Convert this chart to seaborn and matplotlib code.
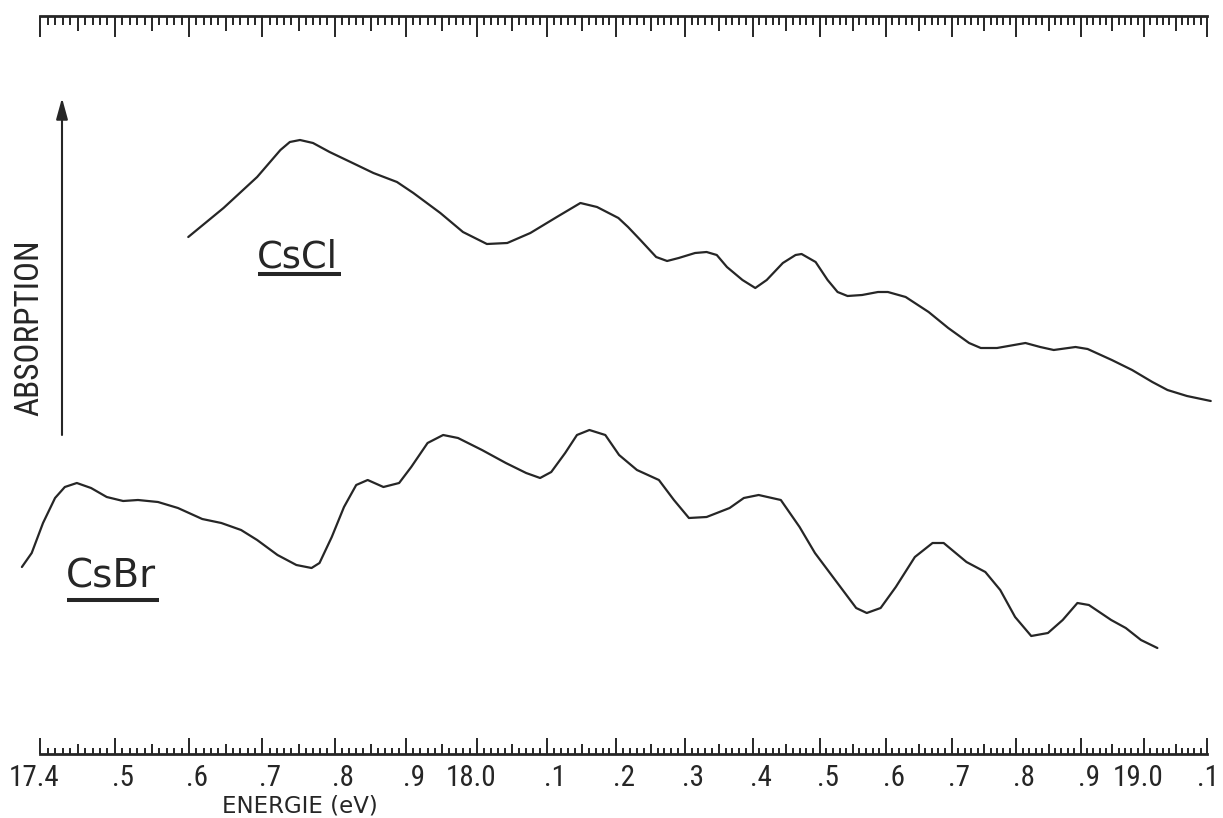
import numpy as np
import pandas as pd
import matplotlib
matplotlib.use("Agg")
import matplotlib.pyplot as plt
import seaborn as sns
from matplotlib import font_manager as fm
from matplotlib.ticker import FixedLocator, NullFormatter
from matplotlib.lines import Line2D

# ---------------- data ----------------
cscl_energy = [17.599, 17.647, 17.693, 17.725, 17.738, 17.752, 17.770, 17.793, 17.825, 17.854,
               17.887, 17.910, 17.948, 17.980, 18.014, 18.043, 18.076, 18.114, 18.148, 18.172,
               18.203, 18.217, 18.235, 18.258, 18.274, 18.291, 18.315, 18.332, 18.347, 18.362,
               18.385, 18.404, 18.421, 18.445, 18.464, 18.473, 18.494, 18.512, 18.527, 18.542,
               18.564, 18.588, 18.603, 18.630, 18.665, 18.695, 18.727, 18.745, 18.770, 18.814,
               18.837, 18.858, 18.892, 18.911, 18.949, 18.981, 19.013, 19.037, 19.068, 19.106]
cscl_absorption = [5.17, 5.46, 5.77, 6.04, 6.12, 6.14, 6.11, 6.02, 5.91, 5.81,
                   5.72, 5.61, 5.41, 5.22, 5.10, 5.11, 5.21, 5.37, 5.51, 5.47,
                   5.36, 5.27, 5.14, 4.97, 4.93, 4.96, 5.01, 5.02, 4.99, 4.87,
                   4.74, 4.66, 4.74, 4.91, 4.99, 5.00, 4.92, 4.74, 4.62, 4.58,
                   4.59, 4.62, 4.62, 4.57, 4.42, 4.26, 4.11, 4.06, 4.06, 4.11,
                   4.07, 4.04, 4.07, 4.05, 3.94, 3.84, 3.72, 3.64, 3.58, 3.53]

csbr_energy = [17.376, 17.389, 17.404, 17.420, 17.433, 17.449, 17.468, 17.489, 17.511, 17.531,
               17.558, 17.585, 17.618, 17.644, 17.671, 17.693, 17.721, 17.747, 17.768, 17.779,
               17.796, 17.813, 17.830, 17.846, 17.868, 17.890, 17.907, 17.930, 17.952, 17.973,
               18.007, 18.041, 18.070, 18.090, 18.106, 18.126, 18.143, 18.161, 18.184, 18.204,
               18.230, 18.262, 18.284, 18.306, 18.332, 18.366, 18.387, 18.409, 18.442, 18.470,
               18.493, 18.520, 18.555, 18.571, 18.592, 18.615, 18.644, 18.671, 18.688, 18.723,
               18.752, 18.775, 18.798, 18.823, 18.849, 18.872, 18.895, 18.913, 18.948, 18.971,
               18.995, 19.021]
csbr_absorption = [1.87, 2.01, 2.31, 2.56, 2.67, 2.71, 2.66, 2.57, 2.53, 2.54,
                   2.52, 2.46, 2.35, 2.31, 2.24, 2.14, 1.99, 1.89, 1.86, 1.91,
                   2.17, 2.47, 2.69, 2.74, 2.67, 2.71, 2.87, 3.11, 3.19, 3.16,
                   3.04, 2.91, 2.81, 2.76, 2.82, 3.01, 3.19, 3.24, 3.19, 2.99,
                   2.84, 2.74, 2.54, 2.36, 2.37, 2.46, 2.56, 2.59, 2.54, 2.27,
                   2.01, 1.77, 1.46, 1.41, 1.46, 1.67, 1.97, 2.11, 2.11, 1.92,
                   1.82, 1.64, 1.37, 1.18, 1.21, 1.34, 1.51, 1.49, 1.34, 1.26,
                   1.14, 1.06]

sample_names = ["CsCl", "CsBr"]
label_energy = [17.693, 17.435]
label_absorption = [4.87, 1.66]

tick_values = [17.4, 17.5, 17.6, 17.7, 17.8, 17.9, 18.0, 18.1, 18.2,
               18.3, 18.4, 18.5, 18.6, 18.7, 18.8, 18.9, 19.0, 19.1]
tick_labels = ["17.4", ".5", ".6", ".7", ".8", ".9", "18.0", ".1", ".2",
               ".3", ".4", ".5", ".6", ".7", ".8", ".9", "19.0", ".1"]
x_title = "ENERGIE (eV)"
y_title = "ABSORPTION"

# ---------------- style ----------------
sns.set_theme(style="white")
plt.rcParams["font.family"] = ["DejaVu Sans"]
INK = "#262626"
W, H = 1223, 818


def condensed_font():
    prefs = ["Liberation Sans Narrow", "Roboto Condensed", "Open Sans Condensed"]
    fl = fm.fontManager.ttflist
    for p in prefs:
        for f in fl:
            if f.name == p and f.style == "normal" and f.weight in (400, "normal", "regular"):
                return f.fname
    for f in fl:
        if f.name == "DejaVu Sans" and str(f.stretch) in ("condensed", "semi-condensed") \
                and f.style == "normal" and f.weight in (400, "normal"):
            return f.fname
    for f in fl:
        if ("Condensed" in f.name or "Narrow" in f.name) and f.style == "normal":
            return f.fname
    return None


cond_path = condensed_font()


def cond_fp(size):
    if cond_path:
        return fm.FontProperties(fname=cond_path, size=size)
    return fm.FontProperties(family="DejaVu Sans", size=size * 0.85)


fig = plt.figure(figsize=(W / 100, H / 100), dpi=100)
fig.patch.set_facecolor("white")
ax = fig.add_axes([40 / W, 64 / H, 1167 / W, 738 / H])
ax.set_facecolor("white")

with np.errstate(divide="ignore"):
    ax.set_xscale("function", functions=(lambda e: -1.0 / np.asarray(e, float),
                                         lambda v: -1.0 / np.asarray(v, float)))

df = pd.concat([
    pd.DataFrame({"energy": cscl_energy, "absorption": cscl_absorption, "sample": sample_names[0]}),
    pd.DataFrame({"energy": csbr_energy, "absorption": csbr_absorption, "sample": sample_names[1]}),
])
sns.lineplot(data=df, x="energy", y="absorption", units="sample", estimator=None,
             sort=False, color=INK, linewidth=1.6, clip_on=False, ax=ax, legend=False,
             solid_joinstyle="round", solid_capstyle="round")

ax.set_xlim(17.4, 19.1)
ax.set_ylim(0, 7.38)
ax.set_xlabel("")
ax.set_ylabel("")

for s in ("left", "right"):
    ax.spines[s].set_visible(False)
for s in ("top", "bottom"):
    ax.spines[s].set_linewidth(2.0)
    ax.spines[s].set_color(INK)

# ticks: long every 0.1, medium every 0.05, short every 0.01 (bottom and top)
minor_h = [h for h in range(1740, 1911) if h % 10]
minor_vals = [h / 100 for h in minor_h]
ax.xaxis.set_major_locator(FixedLocator(tick_values))
ax.xaxis.set_minor_locator(FixedLocator(minor_vals))
ax.xaxis.set_major_formatter(NullFormatter())
ax.xaxis.set_minor_formatter(NullFormatter())
ax.tick_params(axis="x", which="both", direction="in", bottom=True, top=True,
               labelbottom=False, labeltop=False, width=1.4, color=INK)
ax.tick_params(axis="y", left=False, right=False, labelleft=False)
ax.grid(False)

for t in ax.xaxis.get_major_ticks(len(tick_values)):
    t.tick1line.set_markersize(11.5)
    t.tick2line.set_markersize(15.0)
for t, h in zip(ax.xaxis.get_minor_ticks(len(minor_vals)), minor_h):
    if h % 5 == 0:
        t.tick1line.set_markersize(7.2)
        t.tick2line.set_markersize(11.0)
    else:
        t.tick1line.set_markersize(4.5)
        t.tick2line.set_markersize(6.5)

# tick labels with the decimal point under the tick
n_ticks = len(tick_values)
for i, (v, lab) in enumerate(zip(tick_values, tick_labels)):
    if i == n_ticks - 1:
        ha, dx = "right", 8.5          # keep the last label inside the picture
    elif lab.startswith("."):
        ha, dx = "left", -2.2
    else:
        ha, dx = "center", -4.6
    ax.annotate(lab, xy=(v, 0), xycoords=("data", "axes fraction"), xytext=(dx, -7),
                textcoords="offset points", ha=ha, va="top", color=INK,
                fontproperties=cond_fp(21), annotation_clip=False)

xt = fig.text(300 / W, 1 - 806 / H, x_title, ha="center", va="center",
              fontsize=15.5, color=INK)
yt = fig.text(29 / W, 1 - 328 / H, y_title, ha="center", va="center", rotation=90,
              color=INK, fontproperties=cond_fp(30))

# vertical arrow next to the absorption label
ax.annotate("", xy=(22 / 1167, (754 - 98) / 738), xytext=(22 / 1167, (754 - 435) / 738),
            xycoords="axes fraction",
            arrowprops=dict(arrowstyle="-|>,head_length=0.8,head_width=0.22", lw=1.5,
                            color=INK, mutation_scale=16, shrinkA=0, shrinkB=0))

name_texts = []
for name, e, a in zip(sample_names, label_energy, label_absorption):
    name_texts.append(ax.text(e, a, name, ha="left", va="baseline", fontsize=26, color=INK))

# fit text sizes to the reference widths
fig.canvas.draw()
r = fig.canvas.get_renderer()


def fit(t, target, use_height=False):
    bb = t.get_window_extent(r)
    cur = bb.height if use_height else bb.width
    t.set_fontsize(t.get_fontsize() * target / cur)


fit(yt, 177, use_height=True)
fit(xt, 156)
fit(name_texts[0], 81)
fit(name_texts[1], 90)
fig.canvas.draw()

# underline sample names
underline_gap = [7, 12]
for t, e, a, gap in zip(name_texts, label_energy, label_absorption, underline_gap):
    bb = t.get_window_extent(r)
    base_y = ax.transData.transform((e, a))[1]
    pts = fig.transFigure.inverted().transform([(bb.x0 + 1, base_y - gap), (bb.x1 + 3, base_y - gap)])
    fig.add_artist(Line2D(pts[:, 0], pts[:, 1], transform=fig.transFigure, color=INK,
                          lw=2.9, solid_capstyle="butt"))

fig.savefig("out.png", dpi=100, facecolor="white")
